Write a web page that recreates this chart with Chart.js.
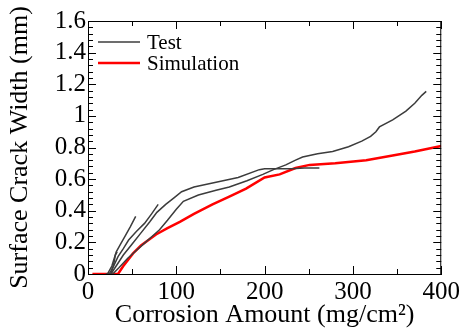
<!DOCTYPE html>
<html>
<head>
<meta charset="utf-8">
<script src="https://cdn.jsdelivr.net/npm/chart.js@4/dist/chart.umd.min.js"></script>
<style>
  html, body { margin: 0; padding: 0; background: #fff; }
  #wrap { width: 463px; height: 331px; }
</style>
</head>
<body>
<div id="wrap"><canvas id="crackChart" width="463" height="331"></canvas></div>
<script>
// test curves (several specimens)
const test1X = [20, 26, 33, 40, 50, 60, 70, 78, 88, 97, 106, 120, 145, 170, 194, 200, 215, 230, 245, 262];
const test1Y = [0, 0, 0.06, 0.12, 0.19, 0.26, 0.33, 0.39, 0.44, 0.48, 0.52, 0.55, 0.58, 0.61, 0.66, 0.665, 0.665, 0.665, 0.67, 0.67];
const test2X = [28, 35, 45, 55, 65, 75, 81, 90, 100, 108, 125, 145, 160, 180, 198, 210, 224, 235, 243, 260, 277, 295, 310, 320, 326, 330, 345, 360, 370, 378, 383];
const test2Y = [0, 0.04, 0.1, 0.15, 0.2, 0.25, 0.28, 0.34, 0.41, 0.46, 0.5, 0.53, 0.55, 0.59, 0.63, 0.66, 0.69, 0.72, 0.74, 0.76, 0.775, 0.805, 0.84, 0.87, 0.9, 0.93, 0.975, 1.03, 1.08, 1.13, 1.155];
const test3X = [22, 27, 32, 37, 42, 48, 54];
const test3Y = [0, 0.05, 0.14, 0.19, 0.24, 0.3, 0.365];
const test4X = [24, 29, 34, 40, 46, 55, 64, 72, 79.5];
const test4Y = [0, 0.05, 0.11, 0.16, 0.215, 0.27, 0.32, 0.38, 0.44];
const test5X = [26, 29, 31, 33];
const test5Y = [0, 0.06, 0.12, 0.14];

// simulation
const simX = [5, 34, 40, 51, 60, 77, 90, 104, 120, 141, 160, 179, 200, 217, 235, 251, 280, 315, 345, 370, 400];
const simY = [0, 0, 0.05, 0.13, 0.18, 0.25, 0.29, 0.33, 0.38, 0.44, 0.49, 0.54, 0.61, 0.63, 0.67, 0.69, 0.70, 0.72, 0.75, 0.775, 0.81];

const legendLabels = ['Test', 'Simulation'];
const xTicks = [0, 100, 200, 300, 400];
const yTicks = [0, 0.2, 0.4, 0.6, 0.8, 1, 1.2, 1.4, 1.6];

const SERIF = '"Liberation Serif", "DejaVu Serif", serif';
const GRAY = '#3c3c3c';
const RED = '#ff0000';

function pts(xs, ys) {
    return xs.map((x, i) => ({ x: x, y: ys[i] }));
}

function testSet(xs, ys) {
    return { label: 'Test', data: pts(xs, ys), borderColor: GRAY, borderWidth: 1.5,
             pointRadius: 0, showLine: true, tension: 0, fill: false };
}

// inward ticks on all four sides + top/right frame + legend inside plot
const framePlugin = {
    id: 'frame',
    afterDraw(chart) {
        const ctx = chart.ctx;
        const a = chart.chartArea;
        const xs = chart.scales.x, ys = chart.scales.y;
        ctx.save();
        ctx.strokeStyle = '#000';
        ctx.lineWidth = 1;
        ctx.strokeRect(a.left + 0.5, a.top + 0.5, a.right - a.left - 1, a.bottom - a.top);
        ctx.beginPath();
        for (let v = 0; v <= 400; v += 50) {
            const px = Math.round(xs.getPixelForValue(v)) + 0.5;
            const len = v % 100 === 0 ? 8 : 5;
            ctx.moveTo(px, a.bottom); ctx.lineTo(px, a.bottom - len);
            ctx.moveTo(px, a.top); ctx.lineTo(px, a.top + len);
        }
        for (let k = 0; k <= 40; k++) {
            const py = Math.round(ys.getPixelForValue(k * 0.04)) + 0.5;
            const len = k % 5 === 0 ? 8 : 5;
            ctx.moveTo(a.left, py); ctx.lineTo(a.left + len, py);
            ctx.moveTo(a.right, py); ctx.lineTo(a.right - len, py);
        }
        ctx.stroke();

        // legend
        const lx = a.left + 10;
        const rows = [[GRAY, 1.5], [RED, 2.5]];
        ctx.font = '21px ' + SERIF;
        ctx.textBaseline = 'middle';
        ctx.fillStyle = '#000';
        rows.forEach((r, i) => {
            const y = a.top + 21 + i * 21;
            ctx.strokeStyle = r[0];
            ctx.lineWidth = r[1];
            ctx.beginPath();
            ctx.moveTo(lx, y); ctx.lineTo(lx + 42, y);
            ctx.stroke();
            ctx.fillText(legendLabels[i], lx + 49, y + 1);
        });
        ctx.restore();
    }
};

new Chart(document.getElementById('crackChart'), {
    type: 'scatter',
    data: {
        datasets: [
            testSet(test1X, test1Y),
            testSet(test2X, test2Y),
            testSet(test3X, test3Y),
            testSet(test4X, test4Y),
            testSet(test5X, test5Y),
            { label: 'Simulation', data: pts(simX, simY), borderColor: RED, borderWidth: 2.5,
              pointRadius: 0, showLine: true, tension: 0, fill: false }
        ]
    },
    options: {
        responsive: false,
        animation: false,
        layout: { padding: { top: 21, right: 21, left: 0, bottom: 0 } },
        plugins: { legend: { display: false }, tooltip: { enabled: false } },
        scales: {
            x: {
                type: 'linear', min: 0, max: 400,
                afterFit(s) { s.height = 57; },
                afterBuildTicks(s) { s.ticks = xTicks.map(v => ({ value: v })); },
                grid: { display: false, drawTicks: false },
                border: { display: true, color: '#000', width: 1 },
                ticks: { color: '#000', padding: 3, maxRotation: 0, autoSkip: false,
                         font: { family: SERIF, size: 25 } },
                title: { display: true, text: 'Corrosion Amount (mg/cm²)', color: '#000',
                         padding: { top: 0, bottom: 0 }, font: { family: SERIF, size: 26 } }
            },
            y: {
                type: 'linear', min: 0, max: 1.6,
                afterFit(s) { s.width = 88; },
                afterBuildTicks(s) { s.ticks = yTicks.map(v => ({ value: v })); },
                grid: { display: false, drawTicks: false },
                border: { display: true, color: '#000', width: 1 },
                ticks: { color: '#000', padding: 2, autoSkip: false, font: { family: SERIF, size: 25 },
                         callback: v => String(+v.toFixed(1)) },
                title: { display: true, text: 'Surface Crack Width (mm)', color: '#000',
                         padding: { top: 5, bottom: 0 }, font: { family: SERIF, size: 26 } }
            }
        }
    },
    plugins: [framePlugin]
});
</script>
</body>
</html>
